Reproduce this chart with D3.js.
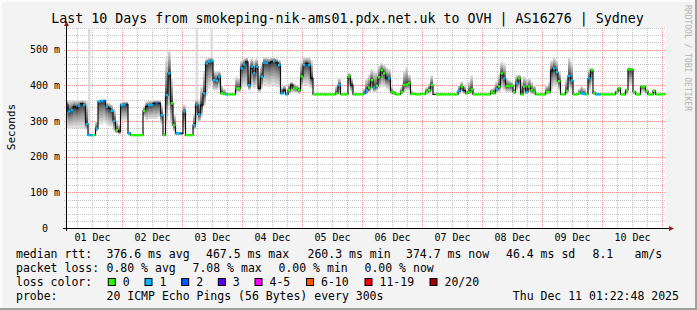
<!DOCTYPE html>
<html><head><meta charset="utf-8">
<script src="https://cdn.jsdelivr.net/npm/d3@7"></script>
<style>
html,body{margin:0;padding:0;background:#f3f3f3;}
svg{display:block;}
text{font-family:"DejaVu Sans Mono",monospace;fill:#000;}
</style></head><body>
<svg id="c" width="697" height="310"></svg>
<script>
// ---------- data (hourly rows over 10 days) ----------
const median = [
345,326,330,340,336,342,348,344,291,260,
260,260,279,354,356,356,340,335,328,300,
274,270,344,346,346,265,260,260,260,260,
260,328,340,344,344,349,349,349,316,260,
372,433,349,288,265,265,265,326,260,260,
260,288,346,318,344,377,461,466,468,414,
412,424,377,375,374,374,374,374,391,391,
447,458,465,400,452,433,452,391,424,463,
462,462,465,467,463,456,377,386,374,386,
400,391,391,386,424,456,461,456,419,374,
374,374,374,374,374,374,374,374,377,400,
374,374,374,424,400,374,374,374,374,377,
385,393,414,393,398,422,442,433,419,419,
381,377,374,374,381,400,402,405,375,375,
374,374,375,375,381,386,400,374,374,374,
374,374,374,374,374,374,374,384,396,385,
377,381,388,374,374,374,374,374,374,374,
381,377,389,396,433,419,398,398,398,381,
405,419,374,396,381,396,386,381,374,374,
374,374,381,381,440,447,436,411,374,374,
384,426,413,374,374,377,377,375,374,419,
442,377,374,374,374,374,374,374,374,374,
381,391,374,374,386,444,444,381,374,374,
396,396,384,374,374,384,374,374,374,374.7];
const smokeHi = [
358,358,358,358,358,358,358,358,358,265,
262,260,300,358,358,358,352,350,345,335,
300,290,352,354,354,270,260,260,260,260,
260,340,355,356,357,358,358,358,345,265,
480,500,420,320,270,268,268,345,260,260,
260,320,360,360,400,440,475,478,478,440,
440,440,400,390,374,374,374,374,425,420,
470,475,478,460,475,470,475,440,460,478,
478,475,478,478,475,472,395,400,380,405,
410,405,400,395,470,478,478,478,470,374,
374,374,374,374,374,374,374,374,400,420,
374,374,374,435,420,374,374,374,374,390,
420,430,445,440,440,455,462,458,450,445,
395,385,374,374,395,440,452,430,385,380,
374,374,380,380,395,405,428,374,374,374,
374,374,374,374,374,374,374,400,410,400,
385,410,428,374,374,374,374,374,374,374,
390,395,410,430,465,462,420,415,410,390,
430,430,410,425,420,420,410,400,374,374,
374,374,400,410,470,478,470,440,374,374,
420,478,465,374,374,390,398,392,374,445,
448,385,378,378,374,374,374,374,374,374,
385,395,374,374,390,450,448,385,374,374,
400,400,388,374,374,388,374,374,374,374.7];
const smokeLo = [
280,280,280,280,280,280,280,280,275,260,
260,260,270,290,290,295,290,285,283,270,
265,262,300,300,300,260,260,260,260,260,
260,310,300,305,305,305,305,310,290,260,
290,330,285,270,260,260,260,280,260,260,
260,275,300,295,310,340,370,390,400,385,
385,390,374,374,374,374,374,374,380,380,
390,395,395,385,395,390,395,380,390,400,
400,395,400,400,395,395,374,375,374,375,
380,380,378,375,390,400,400,395,390,374,
374,374,374,374,374,374,374,374,374,375,
374,374,374,395,380,374,374,374,374,374,
374,378,385,380,382,390,395,395,390,385,
374,374,374,374,374,380,385,385,374,374,
374,374,374,374,375,375,380,374,374,374,
374,374,374,374,374,374,374,375,380,375,
374,375,375,374,374,374,374,374,374,374,
374,374,378,380,390,385,380,380,380,374,
385,390,374,380,375,380,375,374,374,374,
374,374,374,375,385,395,395,385,374,374,
375,390,385,374,374,374,374,374,374,385,
400,374,374,374,374,374,374,374,374,374,
374,380,374,374,374,400,400,374,374,374,
380,380,374,374,374,374,374,374,374,374.7];
// loss class per hour: -1 none, 0 = 0 lost, 1 = 1 lost, 2 = 2 lost
const lossClass = [
2,1,1,-1,-1,1,-1,1,1,1,
1,0,1,1,1,2,1,-1,1,1,
0,-1,1,1,-1,1,0,0,0,0,
0,0,-1,1,1,-1,2,-1,1,0,
1,1,0,0,1,1,-1,1,0,0,
0,1,1,1,-1,1,1,1,1,1,
1,1,0,0,1,0,0,0,0,0,
1,1,-1,1,1,1,1,-1,1,1,
1,-1,-1,1,-1,1,1,-1,1,0,
-1,0,0,0,0,1,-1,1,-1,0,
0,0,0,0,0,0,0,0,0,1,
0,0,0,0,-1,0,0,0,0,1,
1,0,0,1,0,0,0,0,-1,1,
0,0,0,0,0,0,0,0,0,0,
0,0,0,0,0,0,0,-1,0,0,
0,0,0,0,0,0,0,1,0,-1,
0,0,0,0,0,0,0,0,0,0,
0,0,1,0,0,1,0,0,0,0,
1,0,0,0,1,0,0,0,0,0,
0,0,0,0,-1,1,1,0,0,0,
0,1,1,0,0,0,1,1,0,1,
0,0,1,1,0,0,0,0,0,0,
0,0,0,0,0,0,0,0,0,0,
0,0,0,0,0,0,0,0,0,0];
// hours whose max ping is off the chart: [hour, max ms]
const spikes = [[9, 900], [52, 900], [58, 900]];

const yTicks = [0, 100, 200, 300, 400, 500];
const yTickLabels = ["0", "100 m", "200 m", "300 m", "400 m", "500 m"];
const xDays = [1,2,3,4,5,6,7,8,9,10];
const xTickLabels = ["01 Dec","02 Dec","03 Dec","04 Dec","05 Dec","06 Dec","07 Dec","08 Dec","09 Dec","10 Dec"];
const title = "Last 10 Days from smokeping-nik-ams01.pdx.net.uk to OVH | AS16276 | Sydney";
const rttStats = ["376.6 ms avg", "467.5 ms max", "260.3 ms min", "374.7 ms now", "46.4 ms sd", "8.1", "am/s"];
const lossStats = ["0.80 % avg", "7.08 % max", "0.00 % min", "0.00 % now"];
const lossLabels = ["0","1","2","3","4-5","6-10","11-19","20/20"];
const lossColors = ["#26ff00","#00b8ff","#0059ff","#5e00ff","#ff00ff","#ff5500","#ff0000","#a10000"];
const probeText = "20 ICMP Echo Pings (56 Bytes) every 300s";
const stamp = "Thu Dec 11 01:22:48 2025";

// ---------- layout ----------
const W = 697, H = 310;
const start = Date.UTC(2025, 11, 1, 1, 22, 48);
const end = Date.UTC(2025, 11, 11, 1, 22, 48);
const x = d3.scaleUtc().domain([start, end]).range([65.5, 665.5]);
const y = d3.scaleLinear().domain([0, 560]).range([228, 28]);

const svg = d3.select("#c");
svg.append("rect").attr("width", W).attr("height", H).attr("fill", "#f3f3f3");
svg.append("rect").attr("x",0).attr("y",0).attr("width",W).attr("height",2).attr("fill","#fcfcfc");
svg.append("rect").attr("x",0).attr("y",0).attr("width",2).attr("height",H).attr("fill","#fcfcfc");
svg.append("rect").attr("x",0).attr("y",H-2).attr("width",W).attr("height",2).attr("fill","#a0a0a0");
svg.append("rect").attr("x",W-2).attr("y",0).attr("width",2).attr("height",H).attr("fill","#a0a0a0");
svg.append("rect").attr("x", 66).attr("y", 28).attr("width", 600).attr("height", 200).attr("fill", "#fff");

const defs = svg.append("defs");
defs.append("clipPath").attr("id","plot").append("rect").attr("x",66).attr("y",28).attr("width",600).attr("height",200);

// dotted grid (minor first, major on top)
const grid = svg.append("g").attr("shape-rendering", "crispEdges");
const minorColor = "#c4c4c4", majorColor = "#f58c8c";
const hLines = d3.range(20, 561, 20).map(v => ({v, major: v % 100 === 0}));
const vLines = d3.utcHour.every(6).range(new Date(start), new Date(end)).map(t => ({t, major: t.getUTCHours() === 0}));
[false, true].forEach(maj => {
  const col = maj ? majorColor : minorColor;
  hLines.filter(d => d.major === maj).forEach(d => {
    const yy = Math.round(y(d.v) + 0.2) + 0.5;
    grid.append("path").attr("d", `M64,${yy}H666`).attr("stroke", col).attr("stroke-dasharray", "1 1");
  });
  vLines.filter(d => d.major === maj).forEach(d => {
    const xx = Math.round(x(d.t)) + 0.5;
    grid.append("path").attr("d", `M${xx},28V230`).attr("stroke", col).attr("stroke-dasharray", "1 1");
  });
});

const rows = median.map((m, i) => ({t: new Date(start + i * 3600e3), med: m, lo: smokeLo[i], hi: smokeHi[i], loss: lossClass[i]}));
const rowsStep = rows.concat([Object.assign({}, rows[rows.length - 1], {t: new Date(end)})]);
const plot = svg.append("g").attr("clip-path", "url(#plot)");

// off-chart spikes (outer smoke)
spikes.forEach(([h, mx]) => {
  const r = rows[h];
  plot.append("rect").attr("x", x(r.t)).attr("width", x(new Date(+r.t + 3600e3)) - x(r.t))
    .attr("y", y(mx)).attr("height", y(r.lo) - y(mx)).attr("fill", "#dddddd");
});

// smoke layers (outermost light, innermost dark)
for (let k = 1; k <= 10; k++) {
  const f = Math.pow((11 - k) / 10, 1.4);
  const g = Math.floor(190 / 10 * (10 - k)) + 50;
  const area = d3.area().curve(d3.curveStepAfter)
    .x(d => x(d.t))
    .y0(d => y(d.med - (d.med - d.lo) * f))
    .y1(d => y(d.med + (d.hi - d.med) * f));
  plot.append("path").datum(rowsStep).attr("d", area).attr("fill", d3.rgb(g, g, g));
}

// median line
const line = d3.line().curve(d3.curveStepAfter).x(d => x(d.t)).y(d => y(d.med));
plot.append("path").datum(rowsStep).attr("d", line).attr("fill", "none").attr("stroke", "#111").attr("stroke-width", 1.2);

// loss colour markers
plot.selectAll("rect.loss").data(rows.filter(r => r.loss >= 0)).join("rect")
  .attr("class", "loss")
  .attr("x", d => x(d.t)).attr("width", d => x(new Date(+d.t + 3600e3)) - x(d.t))
  .attr("y", d => y(d.med) - 1.2).attr("height", 2.4)
  .attr("fill", d => lossColors[d.loss]);

// axis lines + arrows
const arrowColor = "#9b1b1b";
svg.append("line").attr("x1", 66.5).attr("x2", 66.5).attr("y1", 231).attr("y2", 24).attr("stroke", "#000");
svg.append("line").attr("x1", 63).attr("x2", 670).attr("y1", 228.5).attr("y2", 228.5).attr("stroke", "#000");
svg.append("path").attr("d", "M64,26 L69,26 L66.5,21 Z").attr("fill", arrowColor);
svg.append("path").attr("d", "M669,226 L669,231 L674,228.5 Z").attr("fill", arrowColor);

// y tick labels
const yAxis = d3.axisLeft(y).tickValues(yTicks).tickSize(0).tickPadding(0)
  .tickFormat((d, i) => yTickLabels[i]);
const ya = svg.append("g").attr("transform", "translate(60,0)").call(yAxis);
ya.select(".domain").remove();
ya.attr("font-family", "DejaVu Sans Mono").attr("font-size", 10);
ya.selectAll("text").attr("fill", "#000").attr("x", d => d === 0 ? -12 : 0);

// x tick labels (at noon of each day)
const xAxis = d3.axisBottom(x).tickValues(xDays.map(d => new Date(Date.UTC(2025, 11, d, 12))))
  .tickSize(0).tickPadding(6).tickFormat((d, i) => xTickLabels[i]);
const xa = svg.append("g").attr("transform", "translate(0,228)").call(xAxis);
xa.select(".domain").remove();
xa.attr("font-family", "DejaVu Sans Mono").attr("font-size", 10);
xa.selectAll("text").attr("fill", "#000");

svg.append("text").attr("x", 347.5).attr("y", 23).attr("text-anchor", "middle")
  .attr("font-size", 13.3).text(title);
svg.append("text").attr("transform", "translate(14.5,127) rotate(-90)").attr("text-anchor", "middle")
  .attr("font-size", 11).text("Seconds");
svg.append("text").attr("transform", "translate(684.5,5) rotate(90)").attr("font-size", 8)
  .style("fill", "#b4b4b4").text("RRDTOOL / TOBI OETIKER");

// legend
const lg = svg.append("g").attr("font-size", 11.5);
const put = (tx, xx, yy) => lg.append("text").attr("x", xx).attr("y", yy).text(tx);
put("median rtt:", 16, 258);
[106.5, 206, 307.5, 406, 506, 592.5, 634.5].forEach((xx, i) => put(rttStats[i], xx, 258));
put("packet loss:", 16, 272);
[106.5, 192.5, 278.5, 364.5].forEach((xx, i) => put(lossStats[i], xx, 272));
put("loss color:", 16, 286);
const lossLabelX = [122.8, 159.5, 196.2, 232.8, 269.5, 321, 379.5, 444.5];
lossLabels.forEach((lab, i) => {
  lg.append("rect").attr("x", lossLabelX[i] - 14.5).attr("y", 278.5).attr("width", 7).attr("height", 7)
    .attr("fill", lossColors[i]).attr("stroke", "#000").attr("stroke-width", 1);
  put(lab, lossLabelX[i], 286);
});
put("probe:", 16, 300);
put(probeText, 106.5, 300);
put(stamp, 512.8, 300);
</script>
</body></html>
